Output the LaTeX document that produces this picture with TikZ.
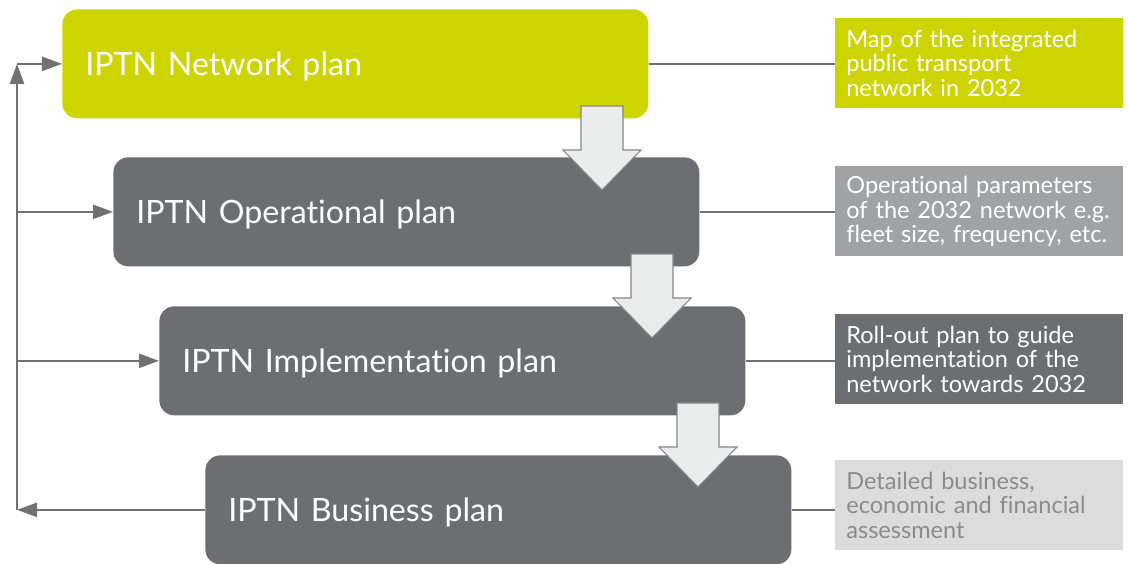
\documentclass[tikz,border=0pt]{standalone}
\usepackage{fontspec}
\setmainfont{Lato}[Ligatures=CommonOff]
\usetikzlibrary{arrows.meta}

\definecolor{iptnlime}{HTML}{CDD400}
\definecolor{iptndark}{HTML}{6D6E71}
\definecolor{iptnmid}{HTML}{A1A2A4}
\definecolor{iptnlight}{HTML}{DCDCDC}
\definecolor{iptntext}{HTML}{8A8B8D}
\definecolor{iptnline}{HTML}{707174}
\definecolor{iptnfill}{HTML}{EBEDED}

\tikzset{
  plan/.style={anchor=north west, rounded corners=3mm, text=white,
    font=\fontsize{18.3}{22}\selectfont, minimum height=21.8mm,
    text width=108mm, inner xsep=4.6mm, text depth=0pt, align=left},
  note/.style={anchor=north west, text=white,
    font=\fontsize{13.4}{13.7}\selectfont, minimum height=18mm,
    text width=53.2mm, inner xsep=2.2mm, align=left},
  link/.style={draw=iptnline, line width=0.45mm},
  back/.style={link, -{Triangle[length=4mm,width=2.8mm]}},
  stepdown/.style={fill=iptnfill, draw=iptnline!85, line width=0.6pt},
}

\begin{document}
\begin{tikzpicture}[x=0.2mm, y=-0.2mm]
	\useasboundingbox (0,0) rectangle (1128,563);

	% Plan boxes, stepped to the right
	\node[plan, fill=iptnlime] (net) at (62,9) {IPTN Network plan};
	\node[plan, fill=iptndark] (ops) at (113,157) {IPTN Operational plan};
	\node[plan, fill=iptndark] (imp) at (159,306) {IPTN Implementation plan};
	\node[plan, fill=iptndark] (bus) at (205,455) {IPTN Business plan};

	% Outputs on the right
	\node[note, fill=iptnlime] (netout) at (835,18) {Map of the integrated\\public transport\\network in 2032};
	\node[note, fill=iptnmid] (opsout) at (835,166) {Operational parameters\\of the 2032 network e.g.\\fleet size, frequency, etc.};
	\node[note, fill=iptndark] (impout) at (835,314) {Roll-out plan to guide\\implementation of the\\network towards 2032};
	\node[note, fill=iptnlight, text=iptntext] (busout) at (835,460) {Detailed business,\\economic and financial\\assessment};

	% Plan to output
	\draw[link] (net.east) -- (net.east -| netout.west);
	\draw[link] (ops.east) -- (ops.east -| opsout.west);
	\draw[link] (imp.east) -- (imp.east -| impout.west);
	\draw[link] (bus.east) -- (bus.east -| busout.west);

	% Feedback loop on the left
	\coordinate (rail) at (17,0);
	\draw[back] (bus.west) -- (bus.west -| rail);
	\draw[back] (bus.west -| rail) -- (net.west -| rail);
	\draw[back] (net.west -| rail) -- (net.west);
	\draw[back] (ops.west -| rail) -- (ops.west);
	\draw[back] (imp.west -| rail) -- (imp.west);

	% Big down arrows between the plans
	\foreach \tx/\ty in {602/190, 652/338, 698/487}
		\draw[stepdown] (\tx,\ty) -- ++(-39,-40) -- ++(18,0) -- ++(0,-44)
			-- ++(42,0) -- ++(0,44) -- ++(18,0) -- cycle;
\end{tikzpicture}
\end{document}
